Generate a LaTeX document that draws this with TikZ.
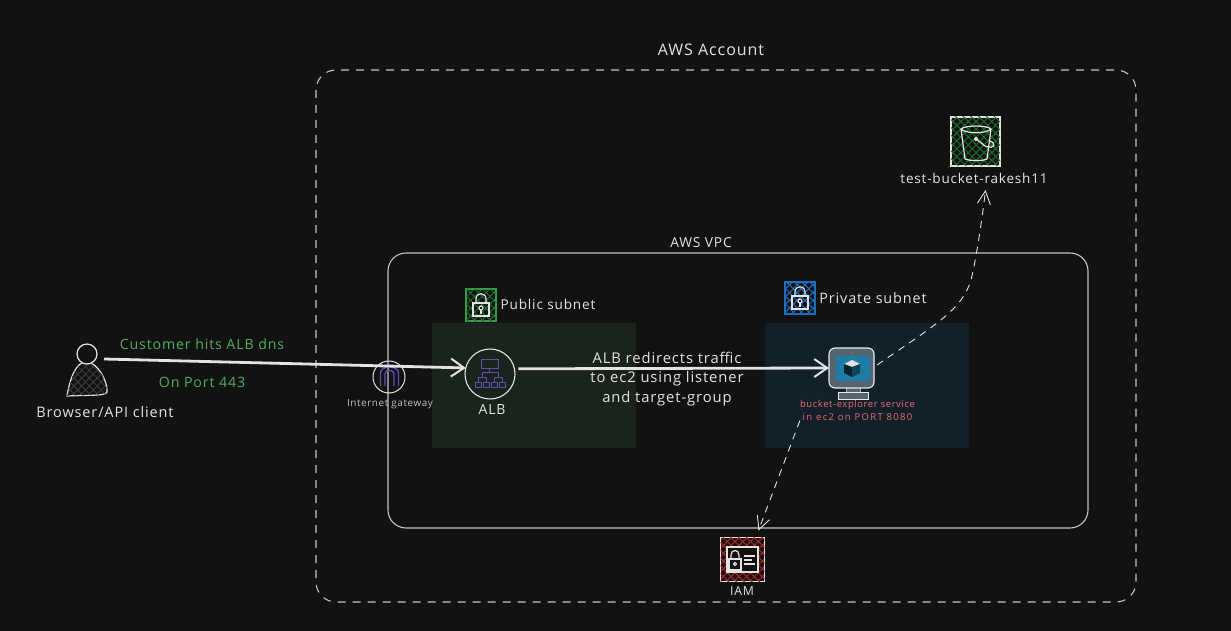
\documentclass[tikz,border=0pt]{standalone}
\usepackage{fontspec}
\setmainfont[LetterSpace=6]{Open Sans}
\usetikzlibrary{arrows.meta,patterns.meta}
\definecolor{canvas}{HTML}{121212}
\definecolor{chalk}{HTML}{E3E3E3}
\definecolor{rim}{HTML}{C4C4C4}
\definecolor{pubfill}{HTML}{1A231C}
\definecolor{privfill}{HTML}{12202A}
\definecolor{leaf}{HTML}{2F9E44}
\definecolor{sky}{HTML}{1971C2}
\definecolor{rose}{HTML}{E03131}
\definecolor{note}{HTML}{F06A6A}
\definecolor{violet}{HTML}{5F50B0}
\definecolor{screen}{HTML}{1F7CA6}
\definecolor{slate}{HTML}{55646E}
\tikzset{
  caption/.style={text=chalk, font=\fontsize{14.5}{17}\selectfont, inner sep=0pt, align=center},
  tinycap/.style={text=chalk!85!black, font=\fontsize{9.9}{12}\selectfont, inner sep=0pt},
  greencap/.style={text=leaf!85!white, font=\fontsize{14.2}{17}\selectfont, inner sep=0pt},
  hatch/.style={pattern={Lines[angle=45,distance=5.5pt,line width=1pt]}, pattern color=#1,
    postaction={pattern={Lines[angle=-45,distance=5.5pt,line width=1pt]}, pattern color=#1}},
  icon/.style={chalk, line width=1.2pt},
  flow/.style={draw=chalk, line width=2.8pt, -{Straight Barb[length=13pt,width=18pt,line width=2pt]}},
  dashflow/.style={draw=chalk, line width=.9pt, dash pattern=on 7pt off 6pt, -{Straight Barb[length=13pt,width=13pt,line width=.9pt]}},
  ghost/.style={inner sep=0pt, outer sep=0pt}
}
\begin{document}
\begin{tikzpicture}[x=1pt,y=-1pt]
\useasboundingbox (0,0) rectangle (1231,631);
\fill[canvas] (0,0) rectangle (1231,631);

% boundaries
\draw[rim, line width=1.1pt, dash pattern=on 8pt off 7pt, rounded corners=20pt] (316,70) rectangle (1136,602);
\draw[rim, line width=1.1pt, rounded corners=18pt] (388,253) rectangle (1088,528);
\fill[pubfill] (432,323) rectangle (636,448);
\fill[privfill] (765,323) rectangle (969,448);
\node[caption, font=\fontsize{16}{19}\selectfont] (accountlabel) at (711,50) {AWS Account};
\node[caption, font=\fontsize{13.8}{16}\selectfont] (vpclabel) at (701,243) {AWS VPC};

% client
\draw[icon, hatch=gray!45!black] (67,396) .. controls (70,378) and (76,362) .. (86,362) .. controls (98,362) and (108,382) .. (107,392) .. controls (106,396) and (90,395) .. (67,396) -- cycle;
\draw[icon, fill=canvas] (87,354) circle (10);
\node[ghost, minimum width=36pt, minimum height=20pt] (client) at (86,359) {};
\node[caption] (clientlabel) at (105,412) {Browser/API client};
\node[greencap] (hitlabel) at (202,344) {Customer hits ALB dns};
\node[greencap] (portlabel) at (202,382) {On Port 443};

% gateway
\node[ghost, circle, draw=chalk, line width=1pt, minimum size=32pt] (igw) at (389,377) {};
\draw[violet, line width=1.4pt] (380.5,386) -- (380.5,373) .. controls (380.5,365) and (398.5,365) .. (398.5,373) -- (398.5,386);
\draw[violet, line width=1.4pt] (385,386) -- (385,374) .. controls (385,369) and (394,369) .. (394,374) -- (394,386);
\node[tinycap] (igwlabel) at (390,404) {Internet gateway};

% public subnet
\node[ghost, draw=leaf, line width=1.2pt, minimum width=30pt, minimum height=32pt, hatch=leaf!70!black] (publock) at (481,305) {};
\draw[icon] (473,303) rectangle (489,316);
\draw[icon] (476,303) -- (476,299) .. controls (476,292) and (486,292) .. (486,299) -- (486,303);
\draw[icon] (481,308) circle (2);
\draw[icon] (481,310) -- (481,314);
\node[caption, font=\fontsize{13.6}{16}\selectfont] (publabel) at (548,304) {Public subnet};

% alb
\node[ghost, circle, draw=chalk, line width=1.1pt, minimum size=50pt] (alb) at (490,374) {};
\draw[violet, line width=1pt] (481,359) rectangle (498,368);
\draw[violet, line width=1pt] (489.5,368) -- (489.5,372);
\draw[violet, line width=1pt] (482,377) -- (482,372) -- (498,372) -- (498,377);
\draw[violet, line width=1pt] (478,382) -- (478,377) -- (486,377) -- (486,382);
\draw[violet, line width=1pt] (494,382) -- (494,377) -- (502,377) -- (502,382);
\draw[violet, line width=1pt] (475,382) rectangle (481,387);
\draw[violet, line width=1pt] (483,382) rectangle (489,387);
\draw[violet, line width=1pt] (491,382) rectangle (497,387);
\draw[violet, line width=1pt] (499,382) rectangle (505,387);
\node[caption, font=\fontsize{14}{17}\selectfont] (alblabel) at (492,409) {ALB};

% private subnet
\node[ghost, draw=sky, line width=1.2pt, minimum width=30pt, minimum height=32pt, hatch=sky!80!violet] (privlock) at (800,298) {};
\draw[icon] (792,296) rectangle (808,309);
\draw[icon] (795,296) -- (795,292) .. controls (795,285) and (805,285) .. (805,292) -- (805,296);
\draw[icon] (800,301) circle (2);
\draw[icon] (800,303) -- (800,307);
\node[caption, font=\fontsize{14.4}{17}\selectfont] (privlabel) at (873,298) {Private subnet};

% ec2
\draw[gray!60, line width=.9pt, fill=slate] (846,386) rectangle (860,392);
\draw[chalk!80, line width=.9pt, fill=slate] (838,392) rectangle (868,399);
\node[ghost, rounded corners=6pt, draw=chalk!80, line width=1.1pt, fill=slate, minimum width=45pt, minimum height=40pt] (ec2) at (851.5,368) {};
\fill[screen] (836,356) rectangle (870,381);
\fill[chalk] (852,360) -- (860,364) -- (852,367) -- (844,364) -- cycle;
\fill[black!70!screen] (844,364) -- (852,367) -- (852,377) -- (844,373) -- cycle;
\fill[black!45!screen] (860,364) -- (852,367) -- (852,377) -- (860,373) -- cycle;
\fill[leaf] (852,353) circle (1);
\node[text=note, font=\fontsize{9.5}{12.5}\selectfont, inner sep=0pt, align=center] (ec2label) at (857.5,410.5) {bucket-explorer service\\\addfontfeature{LetterSpace=14}in ec2 on PORT 8080};

% storage
\node[ghost, draw=chalk, line width=1.5pt, minimum width=49pt, minimum height=49pt, hatch=leaf!70!black] (bucket) at (975.5,141.5) {};
\draw[icon] (961,129) .. controls (966,125) and (986,125) .. (991,129) -- (987,159) .. controls (984,161) and (969,161) .. (965,159) -- cycle;
\draw[icon] (961,129) .. controls (966,134) and (986,134) .. (991,129);
\draw[icon] (976,139) -- (985,146) .. controls (996,150) and (996,143) .. (990,141);
\fill[chalk] (976,139) circle (2);
\node[caption, font=\fontsize{13.5}{16}\selectfont] (bucketlabel) at (974,178) {test-bucket-rakesh11};

% iam
\node[ghost, draw=chalk, line width=1.5pt, minimum width=44pt, minimum height=44pt, hatch=rose!80!black] (iam) at (742.5,559.5) {};
\draw[icon, fill=canvas] (727,547) rectangle (758,572);
\draw[icon] (729,559) rectangle (741,570);
\draw[icon] (731,559) -- (731,555) .. controls (731,549) and (739,549) .. (739,555) -- (739,559);
\draw[icon] (735,564) circle (1.6);
\draw[icon] (744,556) -- (755,556);
\draw[icon] (744,560) -- (752,560);
\draw[icon] (744,564) -- (755,564);
\node[caption, font=\fontsize{12.3}{15}\selectfont] (iamlabel) at (742,591) {IAM};

% center label sits under the arrow
\node[caption, font=\fontsize{14.8}{19.5}\selectfont] (routelabel) at (667,379) {ALB redirects traffic\\to ec2 using listener\\and target-group};

% connectors
\draw[flow] (client.east) -- (alb.166);
\draw[flow, shorten <=4pt] (alb.12) -- (ec2.west);
\draw[dashflow] ([shift={(3,-3)}]ec2.east) .. controls (935,325) and (962,310) .. (971,280) .. controls (976,260) and (982,220) .. ([shift={(10,24)}]bucket.south);
\draw[dashflow] (ec2label.south west) -- ([shift={(16,-7)}]iam.north);
\end{tikzpicture}
\end{document}
